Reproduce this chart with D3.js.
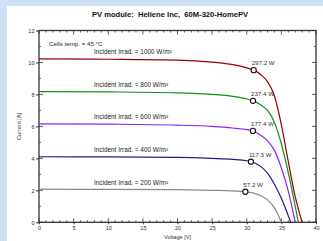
<!DOCTYPE html>
<html>
<head>
<meta charset="utf-8">
<script src="https://cdn.jsdelivr.net/npm/d3@7"></script>
<style>
  body { margin: 0; background: #cfe2f5; }
  svg { display: block; font-family: "Liberation Sans", Arial, sans-serif; }
  text { white-space: pre; }
</style>
</head>
<body>
<div id="chart"></div>
<script>
// irradiance levels (W/m2) and curve colours
const irrad = [1000, 800, 600, 400, 200];
const colors = ["#990000", "#129112", "#8f1fff", "#1c1c8f", "#8a8a8a"];

// I-V curves: voltage [V] / current [A]
const volts = [
  [0, 10, 20, 25, 28, 30, 31, 32, 33, 34, 35, 36, 37, 38.0],
  [0, 10, 20, 25, 28, 30, 31, 32, 33, 34, 35, 36, 37, 37.45],
  [0, 10, 20, 25, 28, 30, 31, 32, 33, 34, 35, 36, 37.0],
  [0, 10, 20, 25, 28, 30, 31, 32, 33, 34, 35, 36, 36.35],
  [0, 10, 20, 25, 28, 30, 31, 32, 33, 34, 34.5, 35.0]
];
const amps = [
  [10.22, 10.2, 10.15, 10.02, 9.86, 9.66, 9.52, 9.25, 8.8, 7.9, 6.1, 3.8, 1.6, 0],
  [8.18, 8.16, 8.1, 8.0, 7.88, 7.72, 7.58, 7.35, 7.0, 6.25, 4.9, 3.1, 1.0, 0],
  [6.16, 6.14, 6.08, 6.0, 5.9, 5.8, 5.7, 5.45, 5.1, 4.5, 3.4, 1.95, 0],
  [4.1, 4.09, 4.06, 4.0, 3.94, 3.85, 3.74, 3.5, 3.08, 2.38, 1.5, 0.4, 0],
  [2.07, 2.06, 2.04, 2.0, 1.96, 1.9, 1.83, 1.68, 1.4, 0.9, 0.5, 0]
];

// maximum power points
const mppV = [31.0, 30.9, 30.9, 30.6, 29.8];
const mppI = [9.52, 7.6, 5.72, 3.79, 1.91];
const mppLabel = ["297.2 W", "237.4 W", "177.4 W", "117.3 W", "57.2 W"];

const xTicks = [0, 5, 10, 15, 20, 25, 30, 35, 40];
const yTicks = [0, 2, 4, 6, 8, 10, 12];

const W = 323, H = 241;
const svg = d3.select("#chart").append("svg").attr("width", W).attr("height", H);

// white panel
svg.append("rect").attr("x", 7).attr("y", 6).attr("width", W - 7).attr("height", H - 6).attr("fill", "#fff");

const x = d3.scaleLinear().domain([0, 40]).range([39, 316]);
const y = d3.scaleLinear().domain([0, 12]).range([222.3, 30.5]);

svg.append("text").attr("x", 170).attr("y", 17).attr("text-anchor", "middle")
  .attr("font-size", 7.6).attr("font-weight", "bold").attr("fill", "#111")
  .text("PV module:  Heliene Inc,  60M-320-HomePV");

// minor ticks on all four sides, pointing inward
const minorX = d3.range(0, 41, 1), minorY = d3.range(0, 13, 1);
const tk = svg.append("g").attr("stroke", "#333").attr("stroke-width", 0.8);
minorX.forEach(v => {
  const len = v % 5 === 0 ? 4 : 2;
  tk.append("line").attr("x1", x(v)).attr("x2", x(v)).attr("y1", y(0)).attr("y2", y(0) - len);
  tk.append("line").attr("x1", x(v)).attr("x2", x(v)).attr("y1", y(12)).attr("y2", y(12) + len);
});
minorY.forEach(v => {
  const len = v % 2 === 0 ? 4 : 2;
  tk.append("line").attr("y1", y(v)).attr("y2", y(v)).attr("x1", x(0)).attr("x2", x(0) + len);
  tk.append("line").attr("y1", y(v)).attr("y2", y(v)).attr("x1", x(40)).attr("x2", x(40) - len);
});

// axes with labels
const gx = svg.append("g").attr("transform", `translate(0,${y(0)})`)
  .call(d3.axisBottom(x).tickValues(xTicks).tickSize(2).tickPadding(2).tickFormat(d3.format("d")));
const gy = svg.append("g").attr("transform", `translate(${x(0)},0)`)
  .call(d3.axisLeft(y).tickValues(yTicks).tickSize(3).tickPadding(1.5).tickFormat(d3.format("d")));
[gx, gy].forEach(g => {
  g.select(".domain").remove();
  g.selectAll("text").attr("font-size", 5.6).attr("fill", "#333").attr("font-family", "Liberation Sans, Arial, sans-serif");
  g.selectAll("line").attr("stroke", "#333");
});

// frame
svg.append("rect").attr("x", x(0)).attr("y", y(12)).attr("width", x(40) - x(0)).attr("height", y(0) - y(12))
  .attr("fill", "none").attr("stroke", "#333").attr("stroke-width", 1.3);

svg.append("text").attr("x", x(20)).attr("y", 239).attr("text-anchor", "middle")
  .attr("font-size", 5.6).attr("fill", "#333").text("Voltage [V]");
svg.append("text").attr("transform", `translate(21,${y(6)}) rotate(-90)`).attr("text-anchor", "middle")
  .attr("font-size", 5.6).attr("fill", "#333").text("Current [A]");

svg.append("text").attr("x", 49).attr("y", 45.5).attr("font-size", 6.2).attr("fill", "#222")
  .text("Cells temp. = 45 °C");

const line = d3.line().x(d => x(d[0])).y(d => y(d[1])).curve(d3.curveMonotoneX);

irrad.forEach((g, i) => {
  const pts = volts[i].map((v, j) => [v, amps[i][j]]);
  svg.append("path").attr("d", line(pts)).attr("fill", "none")
    .attr("stroke", colors[i]).attr("stroke-width", 1.2);
  svg.append("text").attr("x", 94).attr("y", y(amps[i][0]) - 4.5)
    .attr("font-size", 6.4).attr("fill", "#222").text(`Incident Irrad. = ${g} W/m²`);
  svg.append("circle").attr("cx", x(mppV[i])).attr("cy", y(mppI[i])).attr("r", 2.6)
    .attr("fill", "#fff").attr("stroke", "#111").attr("stroke-width", 1.1);
  svg.append("text").attr("x", x(mppV[i]) - 2).attr("y", y(mppI[i]) - 5)
    .attr("font-size", 6.2).attr("fill", "#333").text(mppLabel[i]);
});
</script>
</body>
</html>
